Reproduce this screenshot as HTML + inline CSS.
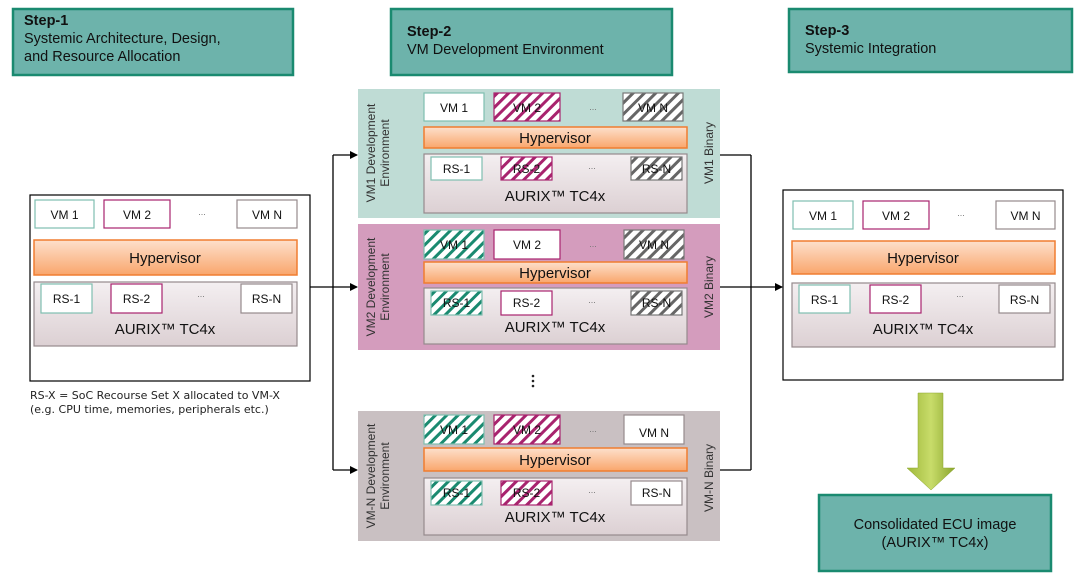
<!DOCTYPE html>
<html><head><meta charset="utf-8"><style>
html,body{margin:0;padding:0;background:#fff;}
svg{display:block;font-family:"Liberation Sans",sans-serif;}
</style></head><body>
<svg width="1080" height="582" viewBox="0 0 1080 582" xmlns="http://www.w3.org/2000/svg">
<defs>
<pattern id="hm" width="8" height="8" patternUnits="userSpaceOnUse" patternTransform="rotate(45)"><rect width="8" height="8" fill="#fff"/><rect width="3" height="8" fill="#a8236e"/></pattern>
<pattern id="hg" width="8" height="8" patternUnits="userSpaceOnUse" patternTransform="rotate(45)"><rect width="8" height="8" fill="#fff"/><rect width="3" height="8" fill="#666"/></pattern>
<pattern id="ht" width="8" height="8" patternUnits="userSpaceOnUse" patternTransform="rotate(45)"><rect width="8" height="8" fill="#fff"/><rect width="3" height="8" fill="#1a8a70"/></pattern>
<linearGradient id="hyp" x1="0" y1="0" x2="0" y2="1"><stop offset="0" stop-color="#fde0cc"/><stop offset="1" stop-color="#f9a66c"/></linearGradient>
<linearGradient id="aur" x1="0" y1="0" x2="0" y2="1"><stop offset="0" stop-color="#f4eff1"/><stop offset="1" stop-color="#dcd0d3"/></linearGradient>
<linearGradient id="grn" x1="0" y1="0" x2="1" y2="0"><stop offset="0" stop-color="#9fb83a"/><stop offset="0.5" stop-color="#c8dc6a"/><stop offset="1" stop-color="#8aa52c"/></linearGradient>
<marker id="ar" markerWidth="8" markerHeight="8" refX="7" refY="4" orient="auto" markerUnits="userSpaceOnUse"><path d="M0,0 L8,4 L0,8z" fill="#000"/></marker>
</defs>

<g fill="#6db3ab" stroke="#1a8a70" stroke-width="2.5">
<rect x="13" y="9" width="280" height="66"/>
<rect x="391" y="9" width="281" height="66"/>
<rect x="789" y="9" width="283" height="63"/>
</g>
<g font-size="14.5" fill="#111">
<text x="24" y="25" font-weight="bold">Step-1</text>
<text x="24" y="43">Systemic Architecture, Design,</text>
<text x="24" y="61">and Resource Allocation</text>
<text x="407" y="36" font-weight="bold">Step-2</text>
<text x="407" y="54">VM Development Environment</text>
<text x="805" y="35" font-weight="bold">Step-3</text>
<text x="805" y="53">Systemic Integration</text>
</g>

<rect x="30" y="195" width="280" height="186" fill="#fff" stroke="#000" stroke-width="1.2"/>
<g font-size="12" fill="#111" text-anchor="middle">
<rect x="35" y="200" width="59" height="28" fill="#fff" stroke="#7fbfb0" stroke-width="1.2"/><text x="64.5" y="219">VM 1</text>
<rect x="104" y="200" width="66" height="28" fill="#fff" stroke="#a8236e" stroke-width="1.2"/><text x="137" y="219">VM 2</text>
<text x="202" y="215" font-size="9" fill="#777">...</text>
<rect x="237" y="200" width="60" height="28" fill="#fff" stroke="#958a8d" stroke-width="1.2"/><text x="267" y="219">VM N</text>
<rect x="34" y="240" width="263" height="35" fill="url(#hyp)" stroke="#f07d30" stroke-width="1.5"/><text x="165" y="263" font-size="15">Hypervisor</text>
<rect x="34" y="282" width="263" height="64" fill="url(#aur)" stroke="#958a8d" stroke-width="1.2"/>
<rect x="41" y="284" width="51" height="29" fill="#fff" stroke="#7fbfb0" stroke-width="1.2"/><text x="66.5" y="303">RS-1</text>
<rect x="111" y="284" width="51" height="29" fill="#fff" stroke="#a8236e" stroke-width="1.2"/><text x="136.5" y="303">RS-2</text>
<text x="201" y="297" font-size="9" fill="#777">...</text>
<rect x="241" y="284" width="51" height="29" fill="#fff" stroke="#958a8d" stroke-width="1.2"/><text x="266.5" y="303">RS-N</text>
<text x="165" y="334" font-size="15">AURIX™ TC4x</text>
</g>
<g font-family="DejaVu Sans, sans-serif" font-size="11" fill="#222">
<text x="30" y="399">RS-X = SoC Recourse Set X allocated to VM-X</text>
<text x="30" y="413">(e.g. CPU time, memories, peripherals etc.)</text>
</g>

<g stroke="#000" stroke-width="1.3" fill="none">
<line x1="310" y1="287" x2="333" y2="287"/>
<line x1="333" y1="155" x2="333" y2="470"/>
<line x1="333" y1="155" x2="357" y2="155" marker-end="url(#ar)"/>
<line x1="333" y1="287" x2="357" y2="287" marker-end="url(#ar)"/>
<line x1="333" y1="470" x2="357" y2="470" marker-end="url(#ar)"/>
<line x1="720" y1="155" x2="751" y2="155"/>
<line x1="720" y1="287" x2="751" y2="287"/>
<line x1="720" y1="470" x2="751" y2="470"/>
<line x1="751" y1="155" x2="751" y2="470"/>
<line x1="751" y1="287" x2="782" y2="287" marker-end="url(#ar)"/>
</g>

<rect x="358" y="89" width="362" height="129" fill="#bfdcd5"/>
<rect x="358" y="224" width="362" height="126" fill="#d49cbd"/>
<rect x="358" y="411" width="362" height="130" fill="#c9c0c2"/>

<g font-size="12" fill="#111" text-anchor="middle">
<rect x="424" y="93" width="60" height="28" fill="#fff" stroke="#7fbfb0" stroke-width="1.2"/><text x="454" y="112">VM 1</text>
<rect x="494" y="93" width="66" height="28" fill="url(#hm)" stroke="#a8236e" stroke-width="1.2"/><text x="527" y="112">VM 2</text>
<text x="593" y="110" font-size="9" fill="#777">...</text>
<rect x="623" y="93" width="60" height="28" fill="url(#hg)" stroke="#777" stroke-width="1.2"/><text x="653" y="112">VM N</text>
<rect x="424" y="127" width="263" height="21" fill="url(#hyp)" stroke="#f07d30" stroke-width="1.5"/><text x="555" y="143" font-size="15">Hypervisor</text>
<rect x="424" y="154" width="263" height="59" fill="url(#aur)" stroke="#958a8d" stroke-width="1.2"/>
<rect x="431" y="157" width="51" height="23" fill="#fff" stroke="#7fbfb0" stroke-width="1.2"/><text x="456.5" y="173">RS-1</text>
<rect x="501" y="157" width="51" height="23" fill="url(#hm)" stroke="#a8236e" stroke-width="1.2"/><text x="526.5" y="173">RS-2</text>
<text x="592" y="169" font-size="9" fill="#777">...</text>
<rect x="631" y="157" width="51" height="23" fill="url(#hg)" stroke="#777" stroke-width="1.2"/><text x="656.5" y="173">RS-N</text>
<text x="555" y="201" font-size="15">AURIX™ TC4x</text>

<rect x="424" y="230" width="60" height="29" fill="url(#ht)" stroke="#7fbfb0" stroke-width="1.2"/><text x="454" y="249">VM 1</text>
<rect x="494" y="230" width="66" height="29" fill="#fff" stroke="#a8236e" stroke-width="1.2"/><text x="527" y="249">VM 2</text>
<text x="593" y="247" font-size="9" fill="#777">...</text>
<rect x="624" y="230" width="60" height="29" fill="url(#hg)" stroke="#777" stroke-width="1.2"/><text x="654" y="249">VM N</text>
<rect x="424" y="262" width="263" height="21" fill="url(#hyp)" stroke="#f07d30" stroke-width="1.5"/><text x="555" y="278" font-size="15">Hypervisor</text>
<rect x="424" y="288" width="263" height="56" fill="url(#aur)" stroke="#958a8d" stroke-width="1.2"/>
<rect x="431" y="291" width="51" height="24" fill="url(#ht)" stroke="#7fbfb0" stroke-width="1.2"/><text x="456.5" y="307">RS-1</text>
<rect x="501" y="291" width="51" height="24" fill="#fff" stroke="#a8236e" stroke-width="1.2"/><text x="526.5" y="307">RS-2</text>
<text x="592" y="303" font-size="9" fill="#777">...</text>
<rect x="631" y="291" width="51" height="24" fill="url(#hg)" stroke="#777" stroke-width="1.2"/><text x="656.5" y="307">RS-N</text>
<text x="555" y="332" font-size="15">AURIX™ TC4x</text>

<rect x="424" y="415" width="60" height="29" fill="url(#ht)" stroke="#7fbfb0" stroke-width="1.2"/><text x="454" y="434">VM 1</text>
<rect x="494" y="415" width="66" height="29" fill="url(#hm)" stroke="#a8236e" stroke-width="1.2"/><text x="527" y="434">VM 2</text>
<text x="593" y="432" font-size="9" fill="#777">...</text>
<rect x="624" y="415" width="60" height="29" fill="#fff" stroke="#958a8d" stroke-width="1.2"/><text x="654" y="437">VM N</text>
<rect x="424" y="448" width="263" height="23" fill="url(#hyp)" stroke="#f07d30" stroke-width="1.5"/><text x="555" y="465" font-size="15">Hypervisor</text>
<rect x="424" y="478" width="263" height="57" fill="url(#aur)" stroke="#958a8d" stroke-width="1.2"/>
<rect x="431" y="481" width="51" height="24" fill="url(#ht)" stroke="#7fbfb0" stroke-width="1.2"/><text x="456.5" y="497">RS-1</text>
<rect x="501" y="481" width="51" height="24" fill="url(#hm)" stroke="#a8236e" stroke-width="1.2"/><text x="526.5" y="497">RS-2</text>
<text x="592" y="493" font-size="9" fill="#777">...</text>
<rect x="631" y="481" width="51" height="24" fill="#fff" stroke="#958a8d" stroke-width="1.2"/><text x="656.5" y="497">RS-N</text>
<text x="555" y="522" font-size="15">AURIX™ TC4x</text>
</g>

<g font-size="12" fill="#333" text-anchor="middle">
<text transform="translate(375,153) rotate(-90)">VM1 Development</text>
<text transform="translate(389,153) rotate(-90)">Environment</text>
<text transform="translate(375,287) rotate(-90)">VM2 Development</text>
<text transform="translate(389,287) rotate(-90)">Environment</text>
<text transform="translate(375,476) rotate(-90)">VM-N Development</text>
<text transform="translate(389,476) rotate(-90)">Environment</text>
<text transform="translate(713,153) rotate(-90)">VM1 Binary</text>
<text transform="translate(713,287) rotate(-90)">VM2 Binary</text>
<text transform="translate(713,478) rotate(-90)">VM-N Binary</text>
</g>

<g fill="#222"><circle cx="533" cy="376" r="1.3"/><circle cx="533" cy="381" r="1.3"/><circle cx="533" cy="386" r="1.3"/></g>

<rect x="783" y="190" width="280" height="190" fill="#fff" stroke="#000" stroke-width="1.2"/>
<g font-size="12" fill="#111" text-anchor="middle">
<rect x="793" y="201" width="60" height="28" fill="#fff" stroke="#7fbfb0" stroke-width="1.2"/><text x="823" y="220">VM 1</text>
<rect x="863" y="201" width="66" height="28" fill="#fff" stroke="#a8236e" stroke-width="1.2"/><text x="896" y="220">VM 2</text>
<text x="961" y="216" font-size="9" fill="#777">...</text>
<rect x="996" y="201" width="59" height="28" fill="#fff" stroke="#958a8d" stroke-width="1.2"/><text x="1025.5" y="220">VM N</text>
<rect x="792" y="241" width="263" height="33" fill="url(#hyp)" stroke="#f07d30" stroke-width="1.5"/><text x="923" y="263" font-size="15">Hypervisor</text>
<rect x="792" y="283" width="263" height="64" fill="url(#aur)" stroke="#958a8d" stroke-width="1.2"/>
<rect x="799" y="285" width="51" height="28" fill="#fff" stroke="#7fbfb0" stroke-width="1.2"/><text x="824.5" y="304">RS-1</text>
<rect x="870" y="285" width="51" height="28" fill="#fff" stroke="#a8236e" stroke-width="1.2"/><text x="895.5" y="304">RS-2</text>
<text x="960" y="297" font-size="9" fill="#777">...</text>
<rect x="999" y="285" width="51" height="28" fill="#fff" stroke="#958a8d" stroke-width="1.2"/><text x="1024.5" y="304">RS-N</text>
<text x="923" y="334" font-size="15">AURIX™ TC4x</text>
</g>

<path d="M918,393 L943,393 L943,468 L955,468 L931,490 L907,468 L918,468 Z" fill="url(#grn)" stroke="#8aa52c" stroke-width="0.5"/>

<rect x="819" y="495" width="232" height="76" fill="#6db3ab" stroke="#1a8a70" stroke-width="2.5"/>
<g font-size="14.5" fill="#111" text-anchor="middle">
<text x="935" y="529">Consolidated ECU image</text>
<text x="935" y="547">(AURIX™ TC4x)</text>
</g>
</svg>
</body></html>
